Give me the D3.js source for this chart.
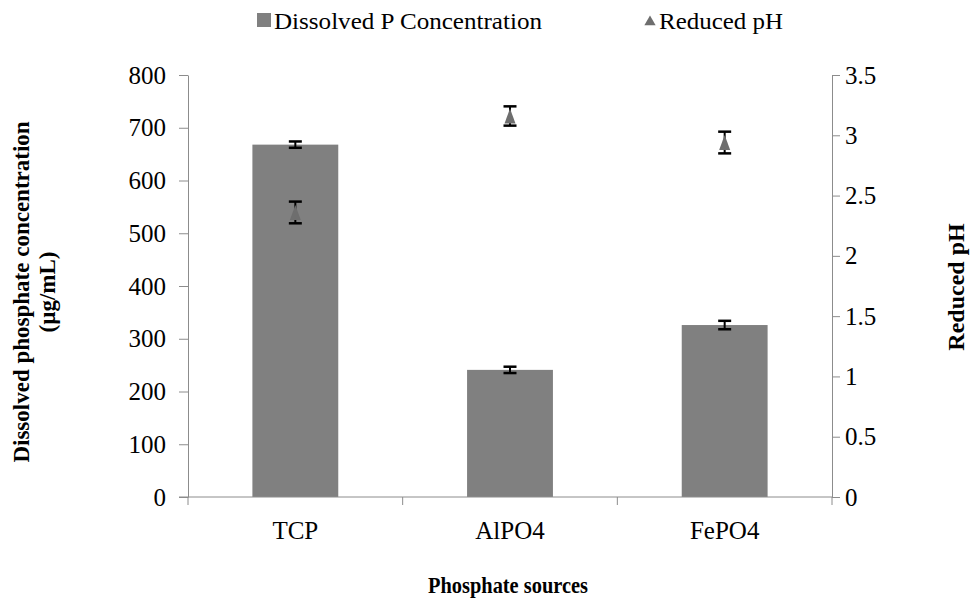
<!DOCTYPE html>
<html>
<head>
<meta charset="utf-8">
<script src="https://cdn.jsdelivr.net/npm/d3@7"></script>
<style>
  body { margin: 0; background: #fff; }
  svg { display: block; }
</style>
</head>
<body>
<svg id="chart" width="973" height="601"></svg>
<script>
// Phosphate solubilisation by source
const categories = ["TCP", "AlPO4", "FePO4"];
const dissolvedP = [668, 241, 326];       // µg/mL
const dissolvedPErr = [6, 6, 8];
const reducedPH = [2.36, 3.16, 2.94];
const reducedPHErr = [0.09, 0.08, 0.09];
const leftTicks = [0, 100, 200, 300, 400, 500, 600, 700, 800];
const rightTicks = [0, 0.5, 1, 1.5, 2, 2.5, 3, 3.5];

const FONT = "Liberation Serif";
const svg = d3.select("#chart").style("font-family", FONT);
const m = { left: 188, right: 832, top: 75, bottom: 497 };
const axisColor = "#8c8c8c";
const barColor = "#808080";
const markerColor = "#6e6e6e";

const x = d3.scaleBand().domain(categories).range([m.left, m.right]).paddingInner(0).paddingOuter(0);
const yL = d3.scaleLinear().domain([0, 800]).range([m.bottom, m.top]);
const yR = d3.scaleLinear().domain([0, 3.5]).range([m.bottom, m.top]);
const barW = x.bandwidth() * 0.4;
const cx = d => x(d) + x.bandwidth() / 2;

// Narrow upright triangle marker
const tallTriangle = {
  draw(ctx, size) {
    const w = Math.sqrt(size) * 0.55, h = Math.sqrt(size) * 0.75;
    ctx.moveTo(0, -h);
    ctx.lineTo(w, h);
    ctx.lineTo(-w, h);
    ctx.closePath();
  }
};

// Bars
svg.append("g").selectAll("rect").data(categories).join("rect")
  .attr("x", d => cx(d) - barW / 2)
  .attr("width", barW)
  .attr("y", (d, i) => yL(dissolvedP[i]))
  .attr("height", (d, i) => yL(0) - yL(dissolvedP[i]))
  .attr("fill", barColor);

// Error bars helper
function errorBars(g, scale, vals, errs) {
  const cap = 6.5;
  g.selectAll("line.v").data(categories).join("line")
    .attr("class", "v")
    .attr("x1", cx).attr("x2", cx)
    .attr("y1", (d, i) => scale(vals[i] - errs[i]))
    .attr("y2", (d, i) => scale(vals[i] + errs[i]))
    .attr("stroke", "#000").attr("stroke-width", 2);
  ["t", "b"].forEach((k, j) => {
    const s = j === 0 ? 1 : -1;
    g.selectAll("line.c" + k).data(categories).join("line")
      .attr("class", "c" + k)
      .attr("x1", d => cx(d) - cap).attr("x2", d => cx(d) + cap)
      .attr("y1", (d, i) => scale(vals[i] + s * errs[i]))
      .attr("y2", (d, i) => scale(vals[i] + s * errs[i]))
      .attr("stroke", "#000").attr("stroke-width", 2.5);
  });
}

errorBars(svg.append("g"), yL, dissolvedP, dissolvedPErr);

// pH markers, error bars first so the marker sits on top of the stem
const gPH = svg.append("g");
errorBars(gPH.append("g"), yR, reducedPH, reducedPHErr);
gPH.append("g").selectAll("path").data(categories).join("path")
  .attr("d", d3.symbol().type(tallTriangle).size(100))
  .attr("transform", (d, i) => `translate(${cx(d)},${yR(reducedPH[i])})`)
  .attr("fill", markerColor);

// Axes
const styleAxis = g => {
  g.attr("font-family", FONT);
  g.selectAll(".domain").attr("stroke", axisColor);
  g.selectAll(".tick line").attr("stroke", axisColor);
  g.selectAll(".tick text").attr("font-size", 25).attr("fill", "#000");
};

svg.append("g")
  .attr("transform", `translate(${m.left},0)`)
  .call(d3.axisLeft(yL).tickValues(leftTicks).tickSize(9).tickSizeOuter(0).tickPadding(13))
  .call(styleAxis);

svg.append("g")
  .attr("transform", `translate(${m.right},0)`)
  .call(d3.axisRight(yR).tickValues(rightTicks).tickSize(8).tickSizeOuter(0).tickPadding(5)
    .tickFormat(d => d3.format("")(d)))
  .call(styleAxis);

// X axis with boundary ticks
const gx = svg.append("g").attr("transform", `translate(0,${m.bottom})`);
gx.append("line").attr("x1", m.left - 9).attr("x2", m.right).attr("stroke", axisColor);
const bounds = categories.map(d => x(d)).concat([m.right]);
gx.selectAll("line.t").data(bounds).join("line").attr("class", "t")
  .attr("x1", d => d).attr("x2", d => d).attr("y1", 0).attr("y2", 8).attr("stroke", axisColor);
gx.selectAll("text").data(categories).join("text")
  .attr("x", cx).attr("y", 42)
  .attr("text-anchor", "middle").attr("font-size", 25).text(d => d);

// Axis titles
svg.append("text").attr("x", 508).attr("y", 593).attr("text-anchor", "middle")
  .attr("font-size", 24).attr("font-weight", "bold")
  .attr("textLength", 160).attr("lengthAdjust", "spacingAndGlyphs")
  .text("Phosphate sources");

const lt = svg.append("text").attr("transform", "translate(29,292) rotate(-90)")
  .attr("text-anchor", "middle").attr("font-size", 23).attr("font-weight", "bold");
lt.append("tspan").attr("x", 0).attr("dy", 0).text("Dissolved phosphate concentration");
lt.append("tspan").attr("x", 0).attr("dy", 26).text("(µg/mL)");

svg.append("text").attr("transform", "translate(964,287) rotate(-90)")
  .attr("text-anchor", "middle").attr("font-size", 24).attr("font-weight", "bold").text("Reduced pH");

// Legend
const lg = svg.append("g").attr("font-size", 24);
lg.append("rect").attr("x", 257).attr("y", 13).attr("width", 14).attr("height", 14).attr("fill", barColor);
lg.append("text").attr("x", 274).attr("y", 29)
  .attr("textLength", 268).attr("lengthAdjust", "spacingAndGlyphs")
  .text("Dissolved P Concentration");
lg.append("path").attr("d", d3.symbol().type(d3.symbolTriangle).size(55))
  .attr("transform", "translate(650,22)").attr("fill", markerColor);
lg.append("text").attr("x", 659).attr("y", 29)
  .attr("textLength", 124).attr("lengthAdjust", "spacingAndGlyphs")
  .text("Reduced pH");
</script>
</body>
</html>
